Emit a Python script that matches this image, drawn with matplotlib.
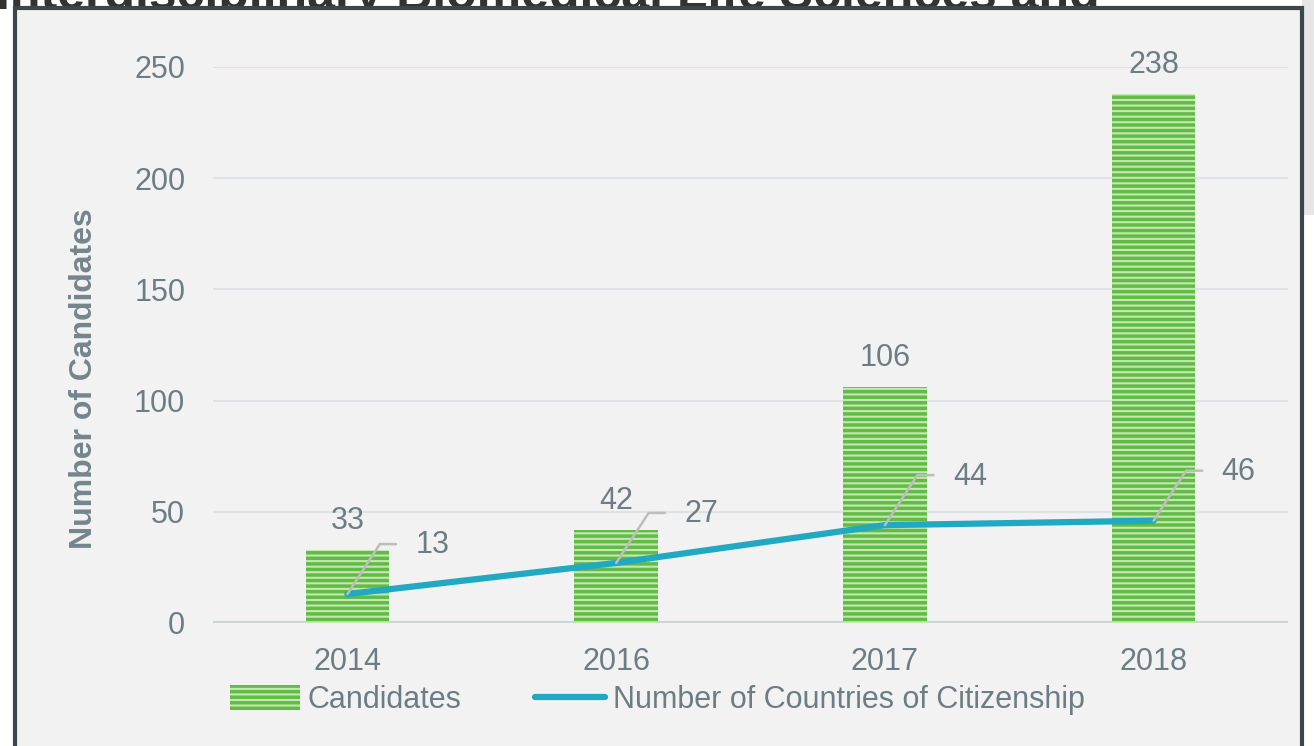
import matplotlib.pyplot as plt
import matplotlib.patches as mpatches
from matplotlib.lines import Line2D

plt.rcParams['font.family'] = ['Liberation Sans', 'DejaVu Sans']
plt.rcParams['hatch.linewidth'] = 2.5

# data
years = ['2014', '2016', '2017', '2018']
candidates = [33, 42, 106, 238]
countries = [13, 27, 44, 46]
y_ticks = [0, 50, 100, 150, 200, 250]

text_grey = '#6d7d84'
bar_face = '#c4e9b0'
bar_hatch = '#62bb46'
line_blue = '#21a9c2'
fs = 22

W, H = 1314, 746
fig = plt.figure(figsize=(W / 100, H / 100), dpi=100)
fig.patch.set_facecolor('white')

# grey strip at the right edge and the framed panel
fig.patches.append(mpatches.Rectangle((1302 / W, (H - 215) / H), 12 / W, 215 / H,
                                      transform=fig.transFigure, facecolor='#e6e6e6',
                                      edgecolor='none', zorder=0))
fig.patches.append(mpatches.Rectangle((15 / W, -0.01), (1302 - 15) / W, (H - 8) / H + 0.01,
                                      transform=fig.transFigure, facecolor='#f2f2f2',
                                      edgecolor='#3b4649', linewidth=3, zorder=1))

# cut-off heading above the frame
fig.text(-0.003, 1 - 9 / H, 'Interdisciplinary Biomedical Life Sciences and',
         fontsize=36, fontweight='bold', color='#333333', va='baseline', ha='left',
         zorder=0)

ax = fig.add_axes([213 / W, (H - 623) / H, (1288 - 213) / W, (623 - 67) / H])
ax.set_zorder(3)
ax.set_facecolor('none')

x = list(range(len(years)))
bars = ax.bar(x, candidates, width=0.31, color=bar_face, edgecolor=bar_hatch,
              hatch='---', linewidth=0, zorder=3)
ax.plot(x, countries, color=line_blue, linewidth=4.5, solid_capstyle='round', zorder=4)

ax.set_xlim(-0.5, 3.5)
ax.set_ylim(0, 250)
ax.set_yticks(y_ticks)
ax.set_xticks(x)
ax.set_xticklabels(years)
ax.tick_params(axis='both', length=0, labelsize=fs, labelcolor=text_grey)
ax.tick_params(axis='y', pad=20)
ax.tick_params(axis='x', pad=17)
ax.grid(axis='y', color='#dde3e4', linewidth=1.5, zorder=0)
ax.axhline(0, color='#cdd5d7', linewidth=3, zorder=2)
for s in ax.spines.values():
    s.set_visible(False)

ax.set_ylabel('Number of Candidates', fontsize=23, fontweight='bold', color='#74858b')
ax.yaxis.set_label_coords(-0.106, 0.44)

# bar value labels
for xi, v in zip(x, candidates):
    ax.annotate(str(v), (xi, v), xytext=(0, 10), textcoords='offset points',
                ha='center', va='bottom', fontsize=fs, color=text_grey)

# line value labels with leader lines
for xi, v in zip(x, countries):
    ax.annotate('', xy=(xi, v), xytext=(35, 36), textcoords='offset points',
                arrowprops=dict(arrowstyle='-', color='#bdbdbd', lw=1.8,
                                shrinkA=0, shrinkB=0,
                                connectionstyle='angle,angleA=0,angleB=57,rad=0'),
                zorder=5)
    ax.annotate(str(v), (xi, v), xytext=(49, 35), textcoords='offset points',
                ha='left', va='center', fontsize=fs, color=text_grey, zorder=5)

handles = [mpatches.Patch(facecolor=bar_face, edgecolor=bar_hatch, hatch='---',
                          linewidth=0, label='Candidates'),
           Line2D([0], [0], color=line_blue, linewidth=4.5, solid_capstyle='round',
                  label='Number of Countries of Citizenship')]
leg = fig.legend(handles=handles, loc='center left', bbox_to_anchor=(202 / W, (H - 700) / H),
                 ncol=2, frameon=False, fontsize=fs, labelcolor=text_grey,
                 handlelength=2.3, handleheight=0.9, handletextpad=0.25, columnspacing=2.4)
leg.set_zorder(4)

fig.savefig('out.png', dpi=100, facecolor=fig.get_facecolor())
